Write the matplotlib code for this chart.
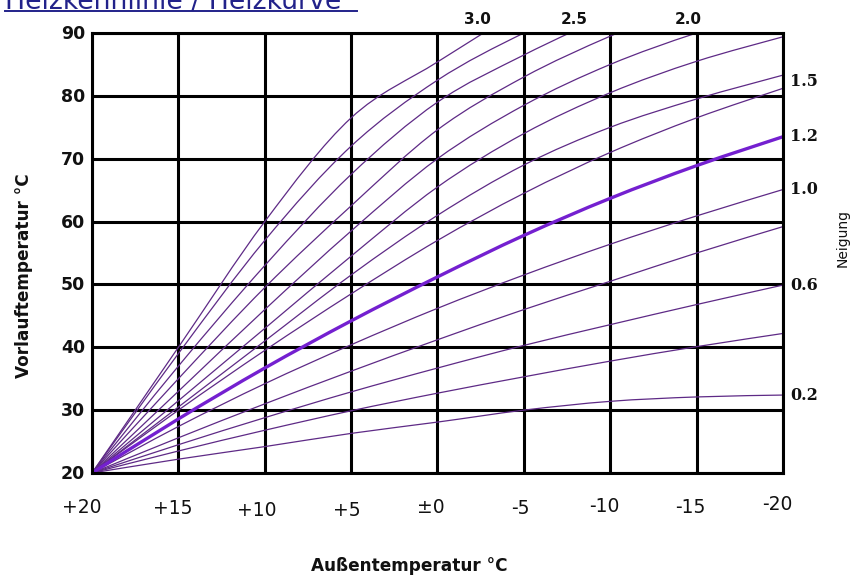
import numpy as np
import matplotlib
matplotlib.use("Agg")
import matplotlib.pyplot as plt
from matplotlib.path import Path
from matplotlib.patches import PathPatch
from matplotlib.transforms import ScaledTranslation

# Outside temperature (°C) at which each heating curve is given
outside = [20, 15, 10, 5, 0, -5, -10, -15, -20]
outside_labels = ["+20", "+15", "+10", "+5", "\u00b10", "-5", "-10", "-15", "-20"]
flow_ticks = [20, 30, 40, 50, 60, 70, 80, 90]

nan = float("nan")
# Flow temperature (°C) for each slope ("Neigung")
s02 = [20, 22.2, 24.2, 26.3, 28.1, 30.0, 31.4, 32.1, 32.4]
s04 = [20, 23.5, 26.8, 29.9, 32.7, 35.3, 37.8, 40.1, 42.2]
s06 = [20, 24.5, 28.8, 32.9, 36.7, 40.3, 43.6, 46.8, 49.9]
s08 = [20, 25.6, 31.0, 36.2, 41.2, 46.0, 50.5, 55.0, 59.2]
s10 = [20, 27.4, 34.2, 40.4, 46.2, 51.5, 56.4, 60.9, 65.1]
s12 = [20, 28.6, 36.7, 44.2, 51.2, 57.8, 63.7, 68.9, 73.5]
s14 = [20, 30.0, 39.5, 48.5, 57.0, 64.5, 71.0, 76.5, 81.2]
s15 = [20, 30.5, 41.0, 51.5, 61.0, 69.0, 75.0, 79.5, 83.3]
s17 = [20, 31.5, 43.0, 54.5, 65.5, 74.0, 80.5, 85.5, 89.4]
s20 = [20, 33.0, 46.0, 58.5, 70.0, 78.5, 85.0, 90.0, 94.0]
s22 = [20, 35.0, 49.5, 62.5, 74.6, 83.0, 89.5, 95.0, nan]
s25 = [20, 37.0, 53.0, 67.5, 79.0, 86.5, 93.0, nan, nan]
s27 = [20, 39.0, 57.0, 72.0, 82.5, 90.0, 96.0, nan, nan]
s30 = [20, 40.0, 60.0, 76.5, 85.4, 94.0, nan, nan, nan]

thin_curves = [s02, s04, s06, s08, s10, s14, s15, s17, s20, s22, s25, s27, s30]
bold_curve = s12

# Slope labels: right edge (value, flow temp at -20 °C) and top edge (value, outside temp at 90 °C)
right_labels = ["0.2", "0.6", "1.0", "1.2", "1.5"]
right_label_y = [32.4, 49.9, 65.1, 73.5, 82.3]
top_labels = ["3.0", "2.5", "2.0"]
top_label_x = [-2.3, -7.9, -14.5]


def smooth_curve(xs, ys):
    """Catmull-Rom spline through the given points, as a Bezier path."""
    pts = np.array([(x, y) for x, y in zip(xs, ys) if not np.isnan(y)], dtype=float)
    verts = [pts[0]]
    codes = [Path.MOVETO]
    n = len(pts)
    for i in range(n - 1):
        p0 = pts[i - 1] if i > 0 else pts[i]
        p1, p2 = pts[i], pts[i + 1]
        p3 = pts[i + 2] if i + 2 < n else pts[i + 1]
        verts += [p1 + (p2 - p0) / 6.0, p2 - (p3 - p1) / 6.0, p2]
        codes += [Path.CURVE4] * 3
    return Path(verts, codes)


W, H = 853, 580
fig = plt.figure(figsize=(W / 100, H / 100), dpi=100)
fig.patch.set_facecolor("white")
ax = fig.add_axes([92 / W, 1 - 473 / H, (783 - 92) / W, (473 - 33) / H])
ax.set_xlim(20, -20)
ax.set_ylim(20, 90)

grid_lw = 2.2
for x in outside:
    ax.axvline(x, color="black", lw=grid_lw, zorder=1)
for y in flow_ticks:
    ax.axhline(y, color="black", lw=grid_lw, zorder=1)
for sp in ax.spines.values():
    sp.set_linewidth(grid_lw)
    sp.set_color("black")
    sp.set_zorder(5)

thin_color = "#5e2a86"
for ys in thin_curves:
    patch = PathPatch(smooth_curve(outside, ys), fill=False, edgecolor=thin_color,
                      lw=0.9, zorder=3, transform=ax.transData)
    ax.add_patch(patch)
ax.add_patch(PathPatch(smooth_curve(outside, bold_curve), fill=False, edgecolor="#7420d0",
                       lw=2.4, zorder=4, transform=ax.transData))

ax.set_xticks([])
ax.set_yticks([])

px = fig.dpi_scale_trans
# y tick labels
for y in flow_ticks:
    ax.text(20, y, str(y), transform=ax.transData + ScaledTranslation(-7 / 100, -1 / 100, px),
            ha="right", va="center", fontsize=12.5, fontweight="bold", color="#111111")

# x tick labels (slightly staggered as in the original print)
dx = [-10, -6, -8, -4, -7, -3, -6, -6, -6]
dy = [34.5, 36, 38, 38, 34.5, 36, 34, 34.5, 32]
for x, lab, ox, oy in zip(outside, outside_labels, dx, dy):
    ax.text(x, 20, lab, transform=ax.transData + ScaledTranslation(ox / 100, -oy / 100, px),
            ha="center", va="center", fontsize=13.5, color="#111111")

# slope labels
for lab, y in zip(right_labels, right_label_y):
    ax.text(-20, y, lab, transform=ax.transData + ScaledTranslation(7 / 100, 0, px),
            ha="left", va="center", fontsize=11.5, fontweight="bold",
            family="DejaVu Serif", color="#111111")
for lab, x in zip(top_labels, top_label_x):
    ax.text(x, 90, lab, transform=ax.transData + ScaledTranslation(0, 14 / 100, px),
            ha="center", va="center", fontsize=11, fontweight="bold", color="#111111")

# axis titles
fig.text(24 / W, 1 - 276 / H, "Vorlauftemperatur \u00b0C", rotation=90, ha="center", va="center",
         fontsize=12.2, fontweight="bold", color="#111111")
fig.text(409 / W, 1 - 566 / H, "Au\u00dfentemperatur \u00b0C", ha="center", va="center",
         fontsize=12.2, fontweight="bold", color="#111111")
fig.text(843 / W, 1 - 238 / H, "Neigung", rotation=90, ha="center", va="center",
         fontsize=10, color="#111111")

# page heading, partly cut off by the top edge as on the original page
fig.text(5 / W, 1 - 9 / H, "Heizkennlinie / Heizkurve", ha="left", va="baseline",
         fontsize=19.3, color="#22228a")
fig.add_artist(plt.Line2D([5 / W, 357 / W], [1 - 11 / H, 1 - 11 / H], color="#22228a", lw=1.4))

fig.savefig("out.png", dpi=100, facecolor="white")
